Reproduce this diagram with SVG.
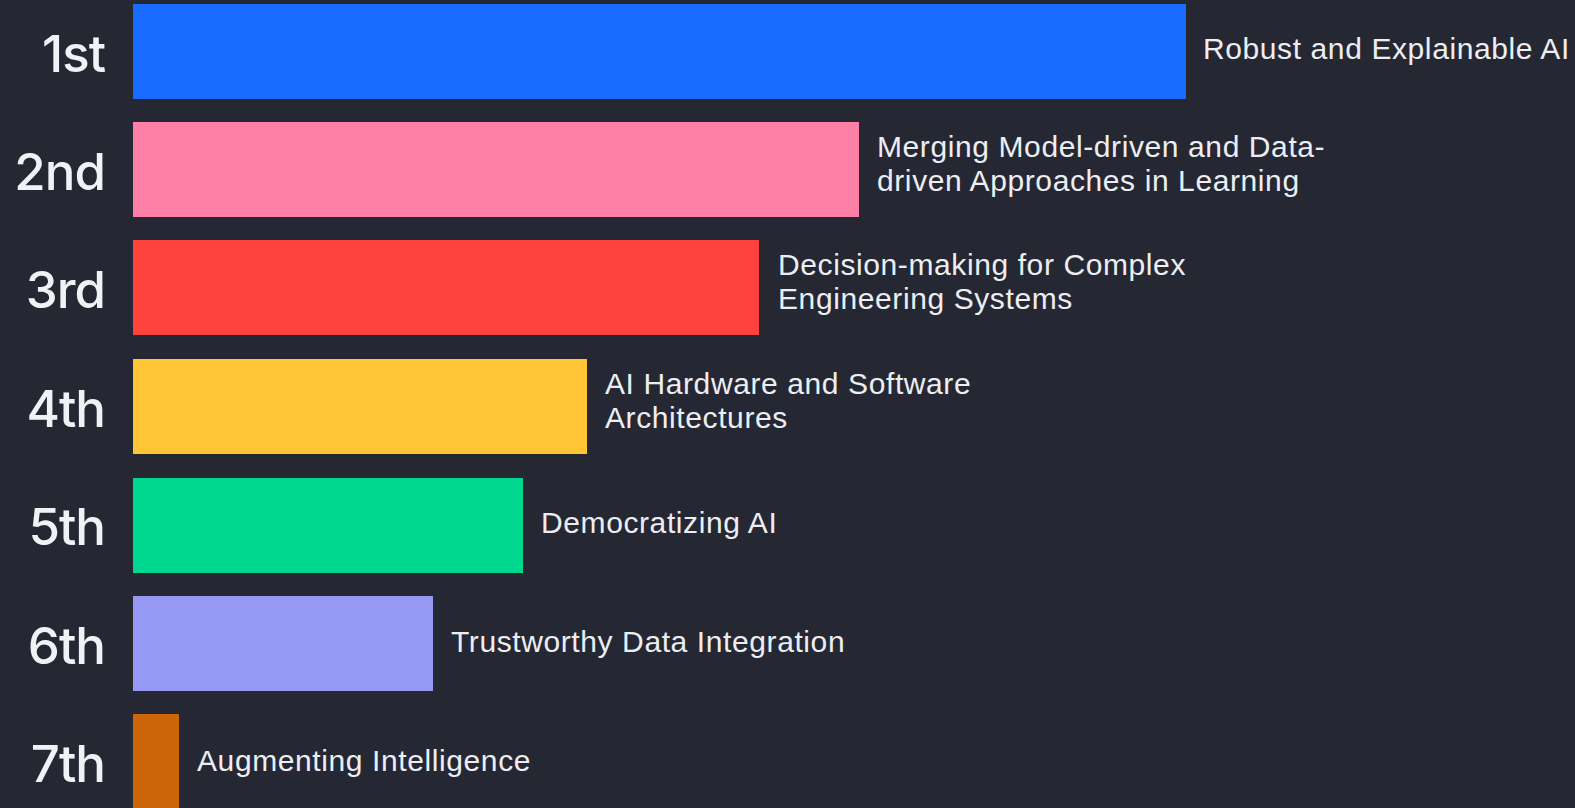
<svg xmlns="http://www.w3.org/2000/svg" width="1575" height="808" viewBox="0 0 1575 808">
<style>
.bg{fill:#252833}
.rank{font-family:Inter,"Liberation Sans",Arial,sans-serif;font-size:51px;font-weight:500;fill:#f1f2f6;text-anchor:end;letter-spacing:-1px}
.lbl{font-family:"Liberation Sans",Arial,sans-serif;font-size:30px;fill:#eceef3;letter-spacing:0.6px}
</style>
<rect class="bg" x="0" y="0" width="1575" height="808"/>
<g id="bar1">
<rect x="133" y="4" width="1053" height="95" fill="#1a6bff"/>
<text class="rank" x="105" y="72">1st</text>
<text class="lbl" x="1203" y="59">Robust and Explainable AI</text>
</g>
<g id="bar2">
<rect x="133" y="122" width="726" height="95" fill="#ff80a7"/>
<text class="rank" x="105" y="190">2nd</text>
<text class="lbl" x="877" y="157">Merging Model-driven and Data-</text>
<text class="lbl" x="877" y="191">driven Approaches in Learning</text>
</g>
<g id="bar3">
<rect x="133" y="240" width="626" height="95" fill="#ff423e"/>
<text class="rank" x="105" y="308">3rd</text>
<text class="lbl" x="778" y="275">Decision-making for Complex</text>
<text class="lbl" x="778" y="309">Engineering Systems</text>
</g>
<g id="bar4">
<rect x="133" y="359" width="454" height="95" fill="#ffc535"/>
<text class="rank" x="105" y="427">4th</text>
<text class="lbl" x="605" y="394">AI Hardware and Software</text>
<text class="lbl" x="605" y="428">Architectures</text>
</g>
<g id="bar5">
<rect x="133" y="478" width="390" height="95" fill="#00d890"/>
<text class="rank" x="105" y="545">5th</text>
<text class="lbl" x="541" y="533">Democratizing AI</text>
</g>
<g id="bar6">
<rect x="133" y="596" width="300" height="95" fill="#9599f4"/>
<text class="rank" x="105" y="664">6th</text>
<text class="lbl" x="451" y="652">Trustworthy Data Integration</text>
</g>
<g id="bar7">
<rect x="133" y="714" width="46" height="94" fill="#cc6508"/>
<text class="rank" x="105" y="782">7th</text>
<text class="lbl" x="197" y="771">Augmenting Intelligence</text>
</g>
<g id="connectors"/>
</svg>
